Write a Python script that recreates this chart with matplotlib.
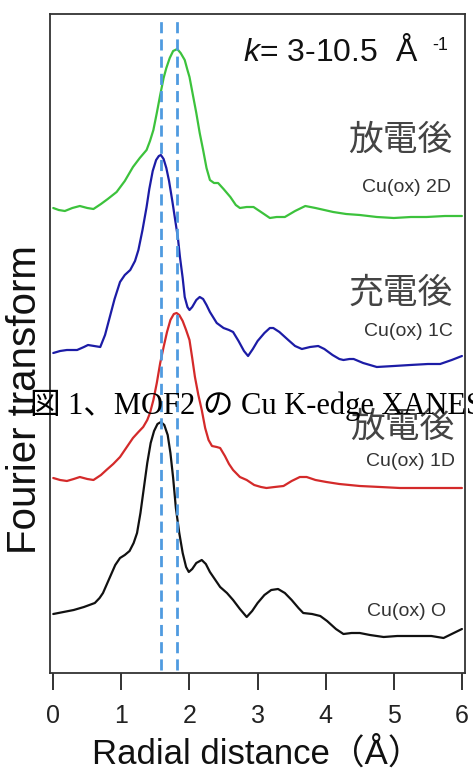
import matplotlib
matplotlib.use("Agg")
import matplotlib.pyplot as plt
import numpy as np

plt.rcParams['font.family'] = ['Liberation Sans', 'Noto Sans CJK JP', 'DejaVu Sans']
plt.rcParams['mathtext.fontset'] = 'custom'
plt.rcParams['mathtext.it'] = 'Liberation Sans:italic'
plt.rcParams['mathtext.rm'] = 'Liberation Sans'

# ---------------- data (radial distance in Å, FT magnitude incl. vertical offset, arb. units)
r_O = [0.00, 0.15, 0.30, 0.45, 0.61, 0.68, 0.73, 0.82, 0.91, 0.98, 1.05, 1.12, 1.18, 1.23,
       1.28, 1.33, 1.38, 1.43, 1.48, 1.53, 1.58, 1.63, 1.68, 1.72, 1.76, 1.80, 1.85, 1.90,
       1.95, 1.99, 2.04, 2.10, 2.18, 2.24, 2.30, 2.38, 2.45, 2.55, 2.64, 2.74, 2.84, 2.92,
       3.00, 3.10, 3.20, 3.30, 3.40, 3.50, 3.60, 3.67, 3.80, 3.92, 4.02, 4.15, 4.26, 4.38,
       4.50, 4.65, 4.85, 5.05, 5.34, 5.55, 5.73, 5.85, 6.00]
y_O = [59, 61, 63, 66, 70, 75, 80, 94, 108, 115, 118, 122, 130, 140,
       160, 185, 210, 230, 242, 249, 251, 248, 238, 220, 195, 165, 140, 120,
       106, 101, 104, 110, 113, 109, 101, 93, 86, 80, 73, 64, 56, 62,
       70, 78, 83, 84, 80, 73, 65, 60, 59, 57, 52, 44, 39, 40,
       40, 38, 36, 37, 37, 37, 35, 39, 44]

r_1D = [0.00, 0.10, 0.20, 0.30, 0.39, 0.50, 0.59, 0.70, 0.78, 0.88, 0.98, 1.08, 1.17, 1.25,
        1.32, 1.38, 1.42, 1.47, 1.52, 1.57, 1.62, 1.67, 1.72, 1.77, 1.81, 1.85, 1.90, 1.95,
        2.00, 2.04, 2.08, 2.13, 2.18, 2.23, 2.28, 2.33, 2.40, 2.45, 2.52, 2.58, 2.64, 2.74,
        2.84, 2.95, 3.05, 3.13, 3.25, 3.38, 3.50, 3.62, 3.72, 3.85, 4.01, 4.20, 4.50, 4.80,
        5.09, 5.50, 6.00]
y_1D = [195, 193, 192, 194, 196, 194, 193, 198, 203, 209, 216, 226, 235, 241,
        246, 253, 260, 273, 290, 310, 326, 341, 353, 359, 360, 358, 352, 343,
        333, 315, 296, 278, 263, 245, 233, 227, 226, 225, 217, 209, 203, 196,
        193, 188, 186, 185, 186, 187, 192, 196, 196, 193, 191, 189, 187, 186,
        185, 185, 185]

r_1C = [0.00, 0.10, 0.20, 0.35, 0.45, 0.51, 0.60, 0.69, 0.76, 0.83, 0.90, 0.98, 1.05, 1.13,
        1.20, 1.25, 1.31, 1.37, 1.41, 1.46, 1.51, 1.55, 1.58, 1.62, 1.66, 1.70, 1.75, 1.79,
        1.83, 1.86, 1.90, 1.93, 1.97, 2.00, 2.04, 2.10, 2.15, 2.20, 2.25, 2.30, 2.40, 2.50,
        2.58, 2.64, 2.72, 2.80, 2.86, 2.93, 3.00, 3.10, 3.18, 3.23, 3.32, 3.45, 3.55, 3.65,
        3.77, 3.89, 3.98, 4.10, 4.20, 4.26, 4.35, 4.41, 4.55, 4.75, 5.00, 5.24, 5.50, 5.68,
        5.85, 6.00]
y_1C = [320, 322, 323, 323, 326, 328, 327, 326, 338, 356, 374, 391, 398, 403,
        412, 423, 443, 466, 484, 502, 513, 517, 518, 514, 505, 492, 471, 453,
        435, 416, 395, 376, 366, 363, 366, 373, 376, 374, 368, 361, 350, 345,
        343, 341, 332, 322, 317, 324, 332, 340, 345, 345, 341, 333, 327, 324,
        326, 327, 324, 318, 314, 313, 314, 314, 310, 306, 307, 308, 309, 309,
        313, 317]

r_2D = [0.00, 0.08, 0.17, 0.28, 0.39, 0.50, 0.59, 0.70, 0.80, 0.93, 1.05, 1.17, 1.27, 1.37,
        1.42, 1.47, 1.52, 1.57, 1.62, 1.66, 1.71, 1.76, 1.82, 1.87, 1.93, 1.97, 2.00, 2.05,
        2.10, 2.15, 2.20, 2.25, 2.30, 2.36, 2.42, 2.50, 2.60, 2.68, 2.74, 2.84, 2.94, 3.05,
        3.18, 3.28, 3.40, 3.55, 3.70, 3.85, 4.11, 4.30, 4.50, 4.75, 5.00, 5.25, 5.48, 5.75,
        6.00]
y_2D = [465, 463, 462, 465, 467, 465, 464, 469, 474, 481, 492, 506, 515, 523,
        532, 543, 560, 578, 595, 605, 615, 622, 624, 620, 613, 603, 596, 578,
        560, 540, 523, 505, 493, 490, 490, 484, 476, 468, 465, 466, 466, 461,
        455, 456, 456, 462, 467, 465, 461, 459, 458, 456, 455, 456, 456, 457,
        457]

series_names = ["Cu(ox) O", "Cu(ox) 1D", "Cu(ox) 1C", "Cu(ox) 2D"]
state_labels = ["放電後", "充電後", "放電後"]   # for 1D, 1C, 2D
ref_lines = [1.58, 1.82]
xticks = [0, 1, 2, 3, 4, 5, 6]

# ---------------- figure
W, H = 473, 769
fig = plt.figure(figsize=(W / 100, H / 100), dpi=100)
ax = fig.add_axes([50 / W, 1 - 673 / H, 415 / W, 659 / H])

kw = dict(lw=1.6, solid_joinstyle='round', solid_capstyle='round')
ax.plot(r_O, y_O, color='#111111', **kw)
ax.plot(r_1D, y_1D, color='#d42a2a', **kw)
ax.plot(r_1C, y_1C, color='#1c1ca6', **kw)
ax.plot(r_2D, y_2D, color='#3cc23c', **kw)

for xr in ref_lines:
    ax.axvline(xr, ymin=0.005, ymax=0.992, color='#4f9be0', lw=2.0, dashes=(4, 2.2))

ax.set_xlim(-0.048, 6.045)
ax.set_ylim(0, 659)
ax.set_yticks([])
ax.set_xticks(xticks)
ax.set_xticklabels([str(t) for t in xticks])
ax.tick_params(axis='x', direction='out', length=12.5, width=1.3, colors='#222222',
               labelsize=18, pad=10)
for s in ax.spines.values():
    s.set_color('#333333')
    s.set_linewidth(1.3)

ax.set_xlabel('Radial distance（Å）', fontsize=25, labelpad=6, color='#111111')
ax.set_ylabel('Fourier transform', fontsize=29, color='#111111')
ax.yaxis.set_label_coords(-6 / 415, (673 - 400) / 659)

# annotations
def px2r(px):
    return (px - 53.3) / 68.17

ax.text(px2r(243), 673 - 52, r'$k$= 3-10.5  Å', fontsize=23, ha='left', va='center', color='#111111')
ax.text(px2r(433), 673 - 46, '-1', fontsize=13, ha='left', va='center', color='#111111')

ax.text(px2r(453), 673 - 140, state_labels[2], fontsize=25, ha='right', va='center', color='#444444')
ax.text(px2r(451), 673 - 188, series_names[3], fontsize=14, ha='right', va='center', color='#333333')
ax.text(px2r(453), 673 - 293, state_labels[1], fontsize=25, ha='right', va='center', color='#444444')
ax.text(px2r(453), 673 - 332, series_names[2], fontsize=14, ha='right', va='center', color='#333333')
ax.text(px2r(455), 673 - 427, state_labels[0], fontsize=25, ha='right', va='center', color='#444444')
ax.text(px2r(455), 673 - 462, series_names[1], fontsize=14, ha='right', va='center', color='#333333')
ax.text(px2r(446), 673 - 612, series_names[0], fontsize=14, ha='right', va='center', color='#333333')

# stray caption overlaid on the figure
fig.text(30 / W, 1 - 405 / H, '図 1、MOF2 の Cu K-edge XANES', fontsize=22,
         family=['Liberation Serif', 'Noto Sans CJK JP'], ha='left', va='center', color='#000000')

fig.savefig('out.png', dpi=100)
